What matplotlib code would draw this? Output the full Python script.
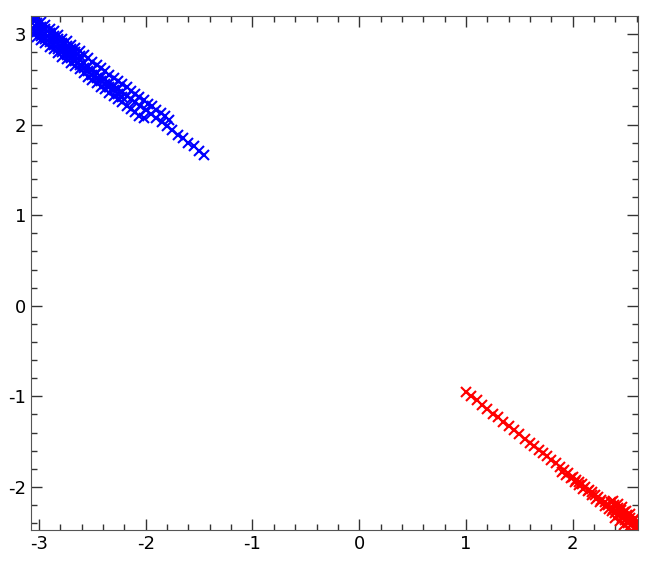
import numpy as np
import matplotlib
matplotlib.use("Agg")
import matplotlib.pyplot as plt
from matplotlib.ticker import MultipleLocator

plt.rcParams['axes.unicode_minus'] = False
plt.rcParams['font.family'] = 'DejaVu Sans'

# blue: main track
blue_main_x = [-1.45, -1.50, -1.55, -1.60, -1.65, -1.70, -1.75, -1.80, -1.85, -1.90, -1.95, -2.00,
               -2.05, -2.10, -2.14, -2.18, -2.22, -2.26, -2.30, -2.34, -2.38, -2.42, -2.46, -2.50,
               -2.54, -2.58, -2.62, -2.66, -2.70, -2.74, -2.78, -2.82, -2.86, -2.90, -2.94, -2.98, -3.02]
blue_main_y = [1.67, 1.71, 1.76, 1.80, 1.85, 1.89, 1.94, 1.98, 2.03, 2.07, 2.12, 2.16,
               2.20, 2.25, 2.28, 2.32, 2.36, 2.39, 2.43, 2.46, 2.50, 2.53, 2.57, 2.60,
               2.64, 2.68, 2.71, 2.75, 2.78, 2.82, 2.85, 2.89, 2.93, 2.96, 3.00, 3.03, 3.07]
# blue: upper, lower and middle-lower tracks
blue_up_x = [-2.58, -2.54, -2.50, -2.46, -2.42, -2.38, -2.34, -2.30, -2.26, -2.22, -2.18,
             -2.14, -2.10, -2.06, -2.02, -1.98, -1.94, -1.90, -1.86, -1.82, -1.78]
blue_up_y = [2.77, 2.73, 2.69, 2.66, 2.62, 2.59, 2.55, 2.52, 2.48, 2.45, 2.41,
             2.37, 2.34, 2.30, 2.27, 2.23, 2.20, 2.16, 2.13, 2.09, 2.05]
blue_low_x = [-2.58, -2.54, -2.50, -2.46, -2.42, -2.38, -2.34, -2.30, -2.26, -2.22, -2.18,
              -2.14, -2.10, -2.06, -2.02]
blue_low_y = [2.57, 2.53, 2.49, 2.46, 2.42, 2.39, 2.35, 2.32, 2.28, 2.25, 2.21,
              2.17, 2.14, 2.10, 2.07]
blue_mid_x = [-2.58, -2.54, -2.50, -2.46, -2.42, -2.38, -2.34, -2.30, -2.26, -2.22]
blue_mid_y = [2.63, 2.59, 2.55, 2.52, 2.48, 2.45, 2.41, 2.38, 2.34, 2.31]

# blue: dense band at the top left (four rows sharing x)
band_x = [-3.06, -3.02, -2.98, -2.94, -2.90, -2.86, -2.82, -2.78, -2.74, -2.70, -2.66, -2.62]
band_a = [3.20, 3.17, 3.13, 3.10, 3.06, 3.03, 2.99, 2.95, 2.92, 2.88, 2.85, 2.81]
band_b = [3.15, 3.12, 3.08, 3.05, 3.01, 2.98, 2.94, 2.90, 2.87, 2.83, 2.80, 2.76]
band_c = [3.05, 3.02, 2.98, 2.95, 2.91, 2.88, 2.84, 2.80, 2.77, 2.73, 2.70, 2.66]
band_d = [3.00, 2.97, 2.93, 2.90, 2.86, 2.83, 2.79, 2.75, 2.72, 2.68, 2.65, 2.61]

# red: main track, second row, dense band at the bottom right
red_main_x = [1.00, 1.05, 1.10, 1.15, 1.20, 1.25, 1.30, 1.35, 1.40, 1.45, 1.50, 1.55, 1.60,
              1.64, 1.68, 1.72, 1.76, 1.80, 1.84, 1.88, 1.92, 1.96, 2.00, 2.03, 2.06, 2.09,
              2.12, 2.15, 2.18, 2.21, 2.24, 2.27, 2.30, 2.33]
red_main_y = [-0.95, -1.00, -1.04, -1.09, -1.14, -1.19, -1.23, -1.28, -1.33, -1.37, -1.42, -1.47, -1.51,
              -1.55, -1.59, -1.63, -1.66, -1.70, -1.74, -1.78, -1.81, -1.85, -1.89, -1.92, -1.95, -1.97,
              -2.00, -2.03, -2.06, -2.09, -2.11, -2.14, -2.17, -2.20]
red_row_x = [1.90, 1.94, 1.98, 2.02, 2.06, 2.10, 2.14, 2.18, 2.22, 2.26, 2.30, 2.34]
red_row_y = [-1.83, -1.87, -1.90, -1.94, -1.98, -2.02, -2.05, -2.09, -2.13, -2.17, -2.21, -2.24]
red_band_x = [2.36, 2.39, 2.42, 2.45, 2.48, 2.51, 2.54, 2.57, 2.60,
              2.37, 2.40, 2.43, 2.46, 2.49, 2.52, 2.55, 2.58, 2.61,
              2.38, 2.41, 2.44, 2.47, 2.50, 2.53, 2.56, 2.59,
              2.40, 2.44, 2.48, 2.52, 2.56, 2.60,
              2.38, 2.42, 2.46, 2.50, 2.54, 2.58]
red_band_y = [-2.17, -2.20, -2.23, -2.25, -2.28, -2.31, -2.34, -2.37, -2.39,
              -2.26, -2.29, -2.31, -2.34, -2.37, -2.40, -2.42, -2.45, -2.48,
              -2.24, -2.27, -2.30, -2.32, -2.35, -2.38, -2.41, -2.43,
              -2.34, -2.38, -2.42, -2.45, -2.49, -2.53,
              -2.15, -2.19, -2.22, -2.26, -2.30, -2.34]

fig = plt.figure(figsize=(6.64, 5.71), dpi=100)
ax = fig.add_axes([31/664, 1-530/571, (638-31)/664, (530-16)/571])

mk = dict(linestyle='none', marker='x', markersize=6.5, markeredgewidth=1.5)
blue_x = blue_main_x + blue_up_x + blue_low_x + blue_mid_x + band_x * 4
blue_y = blue_main_y + blue_up_y + blue_low_y + blue_mid_y + band_a + band_b + band_c + band_d
ax.plot(blue_x, blue_y, color='blue', **mk)
red_x = red_main_x + red_row_x + red_band_x
red_y = red_main_y + red_row_y + red_band_y
ax.plot(red_x, red_y, color='red', **mk)

ax.set_xlim(-3.075, 2.612)
ax.set_ylim(-2.475, 3.199)
ax.xaxis.set_major_locator(MultipleLocator(1))
ax.xaxis.set_minor_locator(MultipleLocator(0.2))
ax.yaxis.set_major_locator(MultipleLocator(1))
ax.yaxis.set_minor_locator(MultipleLocator(0.2))
ax.tick_params(which='both', direction='in', top=True, right=True, labelsize=13, color='#333333')
ax.tick_params(which='major', length=8, width=1)
ax.tick_params(which='minor', length=4, width=1)
for s in ax.spines.values():
    s.set_color('#555555')

fig.savefig('out.png', dpi=100)
